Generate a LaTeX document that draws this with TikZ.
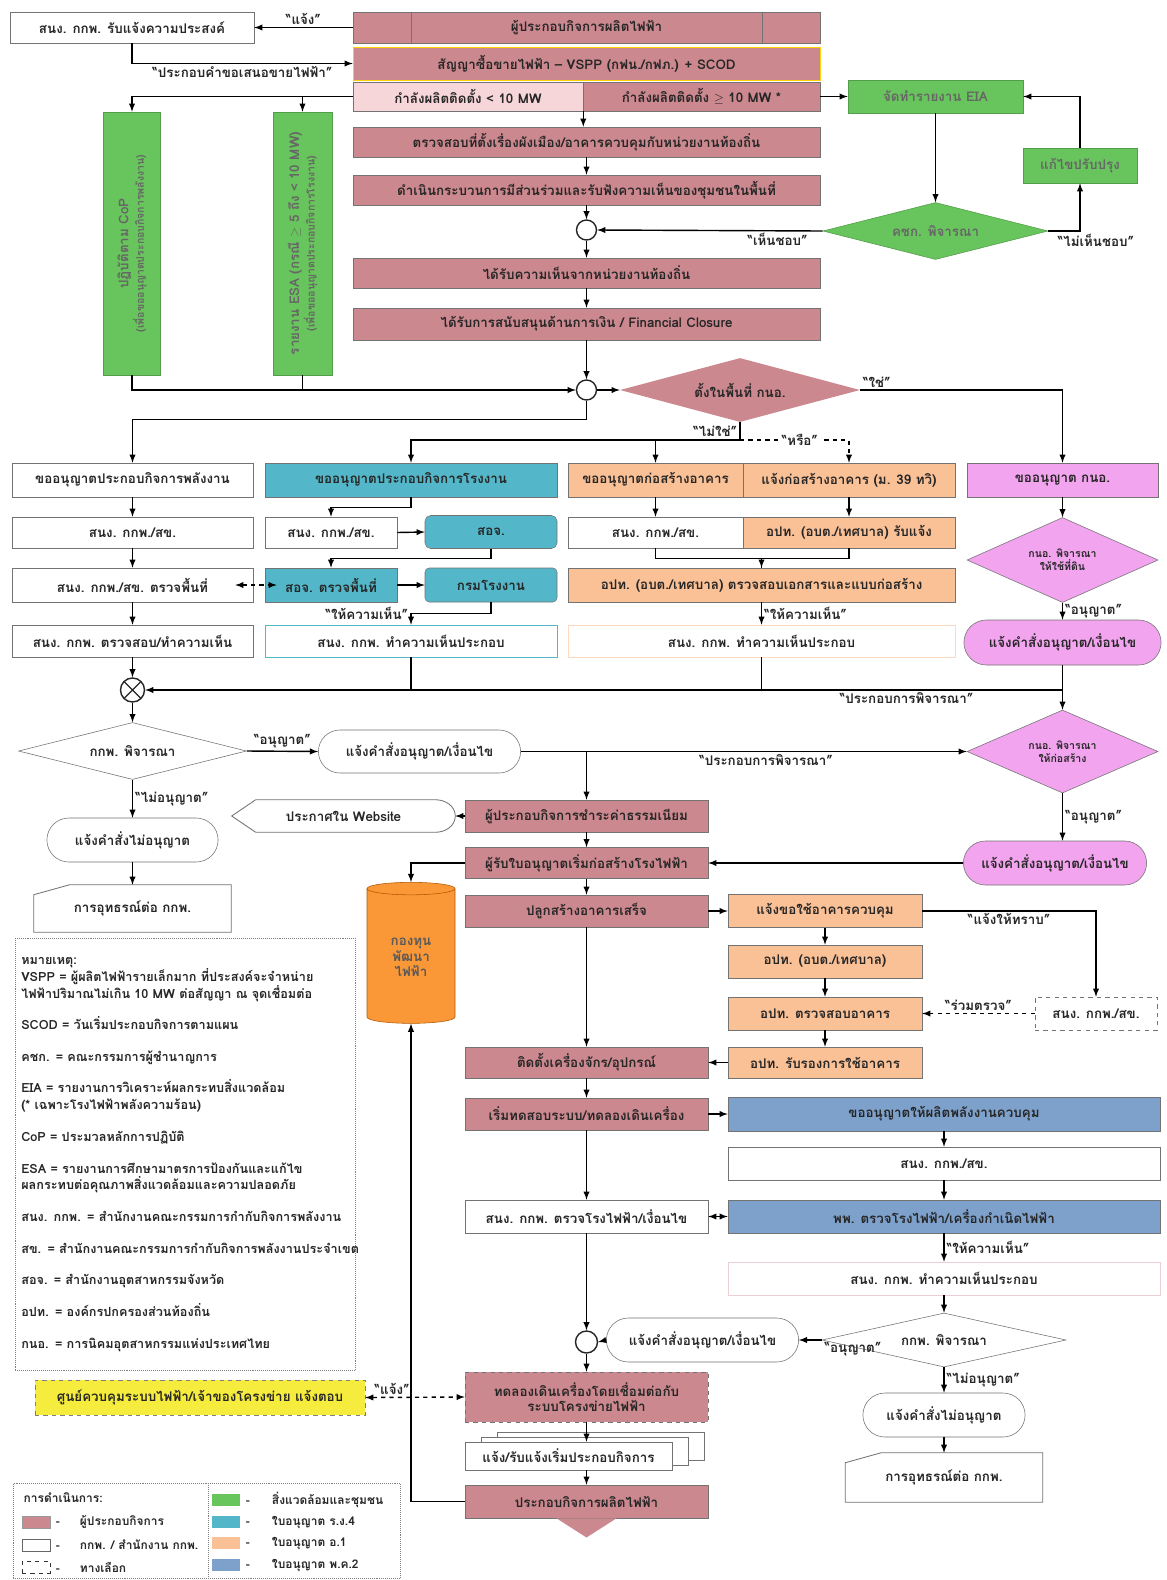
\documentclass[tikz,border=0pt]{standalone}
\usepackage{fontspec}
\setmainfont[Script=Thai]{Loma}
\usepackage{xcolor}
\usepackage{tikz}
\usetikzlibrary{positioning,shapes,shadows,arrows}
\definecolor{opfill}{RGB}{204,136,143}
\definecolor{oplight}{RGB}{247,214,218}
\definecolor{envfill}{RGB}{104,196,92}
\definecolor{factfill}{RGB}{84,183,201}
\definecolor{bldfill}{RGB}{250,192,150}
\definecolor{ieatfill}{RGB}{242,164,238}
\definecolor{pkfill}{RGB}{126,161,204}
\definecolor{fundfill}{RGB}{250,152,56}
\definecolor{dispfill}{RGB}{246,236,62}
\newcommand{\pxu}{0.025cm}
\newcommand{\boxfont}{\bfseries\fontsize{9.5}{11}\selectfont}
\newcommand{\smallfont}{\bfseries\fontsize{7.5}{9}\selectfont}
\newcommand{\notefont}{\bfseries\fontsize{9}{12}\selectfont}
\tikzstyle{boxbase}=[rectangle, draw=black!55, text=black!85, font=\boxfont, inner sep=1pt, align=center]
\tikzstyle{opbox}=[boxbase, fill=opfill]
\tikzstyle{ercbox}=[boxbase, fill=white]
\tikzstyle{envbox}=[boxbase, fill=envfill, draw=envfill!80!black, text=black!60]
\tikzstyle{factbox}=[boxbase, fill=factfill]
\tikzstyle{bldbox}=[boxbase, fill=bldfill]
\tikzstyle{ieatbox}=[boxbase, fill=ieatfill]
\tikzstyle{pkbox}=[boxbase, fill=pkfill]
\tikzstyle{decision}=[diamond, draw=black!55, text=black!85, font=\boxfont, inner sep=0pt, align=center]
\tikzstyle{pill}=[rounded rectangle, draw=black!55, fill=white, text=black!85, font=\boxfont, inner sep=1pt]
\tikzstyle{junction}=[circle, draw=black!85, line width=1pt, fill=white, inner sep=0pt, minimum size=0.5cm]
\tikzstyle{lbl}=[font=\boxfont, text=black!85, inner sep=1.5pt]
\tikzstyle{notebox}=[rectangle, draw=black!50, densely dotted, font=\notefont, text=black!85, inner sep=4pt]
\tikzstyle{swatch}=[rectangle, draw=black!40, minimum width=0.7cm, minimum height=0.3cm, inner sep=0pt]
\tikzstyle{legtext}=[font=\bfseries\fontsize{8.5}{10}\selectfont, text=black!85, inner sep=1pt]
\tikzstyle{myarrow}=[->, >=latex, line width=1pt]
\tikzstyle{line}=[-, line width=1pt]
\tikzset{sz/.style 2 args={minimum width=#1*\pxu, minimum height=#2*\pxu}}

\begin{document}
\begin{tikzpicture}[x=\pxu, y=-\pxu]
    \useasboundingbox[fill=white] (0,0) rectangle (1166,1580);

    % top: application and contract
    \node (notify) [ercbox, sz={244}{31}] at (132,27.5) {สนง. กกพ. รับแจ้งความประสงค์};
    \node (producer) [opbox, sz={467}{31}] at (586.5,27.5) {ผู้ประกอบกิจการผลิตไฟฟ้า};
    \node (contract) [opbox, draw=yellow!70!orange, sz={467}{33}] at (586.5,63.5)
        {สัญญาซื้อขายไฟฟ้า -- VSPP (กฟน./กฟภ.) + SCOD};
    \node (small) [opbox, fill=oplight, sz={230}{29}] at (468,96.5) {กำลังผลิตติดตั้ง < 10 MW};
    \node (large) [opbox, sz={237}{29}] at (701.5,96.5) {กำลังผลิตติดตั้ง $\geq$ 10 MW *};
    \node (eia) [envbox, sz={175}{33}] at (935.5,96.5) {จัดทำรายงาน EIA};
    \node (cop) [envbox, rotate=90, sz={263}{57}] at (132,243.5)
        {ปฏิบัติตาม CoP\\{\smallfont(เพื่อขออนุญาตประกอบกิจการพลังงาน)}};
    \node (esa) [envbox, rotate=90, sz={263}{59}] at (302.5,243.5)
        {รายงาน ESA (กรณี $\geq$ 5 ถึง < 10 MW)\\{\smallfont(เพื่อขออนุญาตประกอบกิจการโรงงาน)}};
    \node (zoning) [opbox, sz={467}{30}] at (586.5,142) {ตรวจสอบที่ตั้งเรื่องผังเมือง/อาคารควบคุมกับหน่วยงานท้องถิ่น};
    \node (hearing) [opbox, sz={467}{30}] at (586.5,190) {ดำเนินกระบวนการมีส่วนร่วมและรับฟังความเห็นของชุมชนในพื้นที่};
    \node (jnA) [junction] at (586.5,230) {};
    \node (eiadec) [decision, aspect=4, fill=envfill, draw=envfill!80!black, text=black!60, sz={225}{57}] at (935.5,231) {คชก. พิจารณา};
    \node (revise) [envbox, sz={114}{35}] at (1080,165.5) {แก้ไขปรับปรุง};
    \node (localok) [opbox, sz={467}{30}] at (586.5,273) {ได้รับความเห็นจากหน่วยงานท้องถิ่น};
    \node (finance) [opbox, sz={467}{32}] at (586.5,324) {ได้รับการสนับสนุนด้านการเงิน / Financial Closure};
    \node (jnB) [junction] at (586.5,390) {};
    \node (ieat) [decision, aspect=3.75, fill=opfill, draw=none, sz={240}{64}] at (740,390) {ตั้งในพื้นที่ กนอ.};
    \coordinate (nojn) at (740,440);

    % licences, four columns
    \node (energy) [ercbox, sz={241}{34}] at (132.5,480) {ขออนุญาตประกอบกิจการพลังงาน};
    \node (ercA) [ercbox, sz={241}{31}] at (132.5,532.5) {สนง. กกพ./สข.};
    \node (surveyA) [ercbox, sz={241}{34}] at (132.5,585) {สนง. กกพ./สข. ตรวจพื้นที่};
    \node (reviewA) [ercbox, sz={241}{32}] at (132.5,641) {สนง. กกพ. ตรวจสอบ/ทำความเห็น};

    \node (factory) [factbox, sz={292}{34}] at (411,480) {ขออนุญาตประกอบกิจการโรงงาน};
    \node (ercB) [ercbox, sz={132}{31}] at (331,532.5) {สนง. กกพ./สข.};
    \node (doiB) [factbox, rounded corners=4pt, sz={132}{33}] at (491,532) {สอจ.};
    \node (doiSurvey) [factbox, sz={132}{34}] at (331,585) {สอจ. ตรวจพื้นที่};
    \node (diw) [factbox, rounded corners=3pt, sz={132}{34}] at (491,585) {กรมโรงงาน};
    \node (reviewB) [ercbox, draw=factfill, sz={292}{32}] at (411,641) {สนง. กกพ. ทำความเห็นประกอบ};

    \node (build) [bldbox, sz={175}{34}] at (655.5,480) {ขออนุญาตก่อสร้างอาคาร};
    \node (notice) [bldbox, sz={212}{34}] at (849,480) {แจ้งก่อสร้างอาคาร (ม. 39 ทวิ)};
    \node (ercC) [ercbox, sz={175}{31}] at (655.5,532.5) {สนง. กกพ./สข.};
    \node (laoC) [bldbox, sz={212}{31}] at (849,532.5) {อปท. (อบต./เทศบาล) รับแจ้ง};
    \node (laoCheck) [bldbox, sz={387}{34}] at (761.5,585) {อปท. (อบต./เทศบาล) ตรวจสอบเอกสารและแบบก่อสร้าง};
    \node (reviewC) [ercbox, draw=bldfill!60, sz={387}{32}] at (761.5,641) {สนง. กกพ. ทำความเห็นประกอบ};

    \node (ieatreq) [ieatbox, sz={191}{34}] at (1062.5,480) {ขออนุญาต กนอ.};
    \node (ieatland) [decision, aspect=2.25, fill=ieatfill, font=\smallfont, sz={191}{85}] at (1062.5,560) {กนอ. พิจารณา\\ให้ใช้ที่ดิน};
    \node (ieatok) [pill, fill=ieatfill, sz={200}{45}] at (1062.5,642.5) {แจ้งคำสั่งอนุญาต/เงื่อนไข};
    \coordinate (mergeR) at (1062.5,690);

    % ERC decision
    \node (jnX) [junction, minimum size=0.6cm, path picture={
        \draw[line width=0.8pt] (path picture bounding box.north west) -- (path picture bounding box.south east)
            (path picture bounding box.south west) -- (path picture bounding box.north east);}] at (132.5,690) {};
    \node (ercdec) [decision, aspect=4, fill=white, sz={228}{57}] at (132.5,751) {กกพ. พิจารณา};
    \node (permitA) [pill, sz={205}{43}] at (419.5,751.5) {แจ้งคำสั่งอนุญาต/เงื่อนไข};
    \node (ieatbuild) [decision, aspect=2.3, fill=ieatfill, font=\smallfont, sz={191}{83}] at (1062.5,751.5) {กนอ. พิจารณา\\ให้ก่อสร้าง};
    \node (rejectA) [pill, sz={174}{44}] at (132.5,840) {แจ้งคำสั่งไม่อนุญาต};
    \node (appealA) [lbl, sz={197}{47}] at (132.5,908.5) {การอุทธรณ์ต่อ กกพ.};
    \node (website) [lbl, sz={223}{32}] at (343.5,816) {ประกาศใน Website};
    \node (ieatok2) [pill, fill=ieatfill, sz={186}{44}] at (1055,863) {แจ้งคำสั่งอนุญาต/เงื่อนไข};

    % construction
    \node (fee) [opbox, sz={243}{32}] at (586.5,816) {ผู้ประกอบกิจการชำระค่าธรรมเนียม};
    \node (start) [opbox, sz={243}{31}] at (586.5,863) {ผู้รับใบอนุญาตเริ่มก่อสร้างโรงไฟฟ้า};
    \node (fund) [cylinder, shape border rotate=90, aspect=0.25, draw=orange!70!black, fill=fundfill,
        text=black!65, font=\boxfont, align=center, sz={88}{141}] at (411,957.5) {กองทุน\\พัฒนา\\ไฟฟ้า};
    \node (built) [opbox, sz={243}{32}] at (586.5,911) {ปลูกสร้างอาคารเสร็จ};
    \node (useBld) [bldbox, sz={194}{33}] at (825,911) {แจ้งขอใช้อาคารควบคุม};
    \node (laoD) [bldbox, sz={194}{33}] at (825,961.5) {อปท. (อบต./เทศบาล)};
    \node (laoInsp) [bldbox, sz={194}{33}] at (825,1013.5) {อปท. ตรวจสอบอาคาร};
    \node (laoCert) [bldbox, sz={194}{31}] at (825,1062.5) {อปท. รับรองการใช้อาคาร};
    \node (ercOpt) [ercbox, dashed, sz={122}{33}] at (1096,1013.5) {สนง. กกพ./สข.};
    \node (install) [opbox, sz={243}{31}] at (586.5,1062.5) {ติดตั้งเครื่องจักร/อุปกรณ์};
    \node (test) [opbox, sz={243}{32}] at (586.5,1114) {เริ่มทดสอบระบบ/ทดลองเดินเครื่อง};
    \node (pk2) [pkbox, sz={432}{34}] at (944,1114) {ขออนุญาตให้ผลิตพลังงานควบคุม};
    \node (ercPk) [ercbox, sz={432}{33}] at (944,1163.5) {สนง. กกพ./สข.};
    \node (dede) [pkbox, sz={432}{33}] at (944,1216.5) {พพ. ตรวจโรงไฟฟ้า/เครื่องกำเนิดไฟฟ้า};
    \node (ercInsp) [ercbox, sz={243}{33}] at (586.5,1216.5) {สนง. กกพ. ตรวจโรงไฟฟ้า/เงื่อนไข};
    \node (ercOp) [ercbox, draw=opfill!40, sz={432}{33}] at (944,1278.5) {สนง. กกพ. ทำความเห็นประกอบ};
    \node (ercdecB) [decision, aspect=4.5, fill=white, sz={244}{54}] at (944,1340) {กกพ. พิจารณา};
    \node (permitB) [pill, sz={195}{44}] at (702.5,1340) {แจ้งคำสั่งอนุญาต/เงื่อนไข};
    \node (jnC) [junction, minimum size=0.55cm] at (586.5,1342) {};
    \node (grid) [opbox, dashed, sz={243}{50}] at (586.5,1397) {ทดลองเดินเครื่องโดยเชื่อมต่อกับ\\ระบบโครงข่ายไฟฟ้า};
    \node (dispatch) [boxbase, fill=dispfill, dashed, draw=black!50, sz={330}{35}] at (200,1397.5)
        {ศูนย์ควบคุมระบบไฟฟ้า/เจ้าของโครงข่าย แจ้งตอบ};
    \node (cod) [ercbox, sz={207}{28}, double copy shadow={shadow xshift=0.4cm, shadow yshift=0.12cm,
        fill=white, draw=black!55}] at (568.5,1456) {แจ้ง/รับแจ้งเริ่มประกอบกิจการ};
    \node (operate) [opbox, sz={243}{33}] at (586.5,1501.5) {ประกอบกิจการผลิตไฟฟ้า};
    \node (rejectB) [pill, sz={165}{44}] at (944,1415) {แจ้งคำสั่งไม่อนุญาต};
    \node (appealB) [lbl, sz={197}{49}] at (944,1477.5) {การอุทธรณ์ต่อ กกพ.};

    % odd shapes drawn round their nodes
    \draw[black!55, semithick] ([xshift=1.475cm]producer.north west) -- ([xshift=1.475cm]producer.south west);
    \draw[black!55, semithick] ([xshift=-1.45cm]producer.north east) -- ([xshift=-1.45cm]producer.south east);
    \draw[black!55, semithick] (appealA.south west) -- ([yshift=-0.25cm]appealA.north west)
        -- ([xshift=0.9cm]appealA.north west) -- (appealA.north east) -- (appealA.south east) -- cycle;
    \draw[black!55, semithick] (appealB.south west) -- ([yshift=-0.25cm]appealB.north west)
        -- ([xshift=0.9cm]appealB.north west) -- (appealB.north east) -- (appealB.south east) -- cycle;
    \draw[black!55, semithick] (website.west) -- ([xshift=0.6cm]website.north west)
        -- ([xshift=-0.5cm]website.north east) to[out=0,in=90] (website.east)
        to[out=-90,in=0] ([xshift=-0.5cm]website.south east) -- ([xshift=0.6cm]website.south west) -- cycle;
    \fill[opfill] ([xshift=-0.75cm]operate.south) -- ([xshift=0.75cm]operate.south)
        -- ([yshift=-0.48cm]operate.south) -- cycle;

    % connectors, top part
    \draw[myarrow] (producer.west) -- node[lbl, above]{“แจ้ง”} (notify.east);
    \draw[myarrow] (notify.south) |- node[lbl, below, pos=0.75]{“ประกอบคำขอเสนอขายไฟฟ้า”} (contract.west);
    \draw[myarrow] (small.west) -| (cop.east);
    \draw[myarrow] (small.west) -| (esa.east);
    \draw[myarrow] (large.east) -- (eia.west);
    \draw[myarrow] (small.south east) -- (small.south east |- zoning.north);
    \draw[myarrow] (zoning.south) -- (hearing.north);
    \draw[myarrow] (hearing.south) -- (jnA.north);
    \draw[myarrow] (eia.south) -- (eiadec.north);
    \draw[myarrow] (eiadec.west) -- node[lbl, below, pos=0.2]{“เห็นชอบ”} (jnA.east);
    \draw[myarrow] (eiadec.east) -| node[lbl, below, xshift=0.4cm, pos=0.5]{“ไม่เห็นชอบ”} (revise.south);
    \draw[myarrow] (revise.north) |- (eia.east);
    \draw[myarrow] (jnA.south) -- (localok.north);
    \draw[myarrow] (localok.south) -- (finance.north);
    \draw[myarrow] (finance.south) -- (jnB.north);
    \draw[myarrow] (cop.west) |- (jnB.west);
    \draw[line] (esa.west) -- (esa.west |- jnB.west);
    \draw[myarrow] (jnB.east) -- (ieat.west);
    \draw[myarrow] (jnB.south) -- ++(0,19) -| (energy.north);
    \draw[myarrow] (ieat.east) -| node[lbl, above right, pos=0]{“ใช่”} (ieatreq.north);
    \draw[line] (ieat.south) -- node[lbl, left]{“ไม่ใช่”} (nojn);
    \draw[myarrow] (nojn) -| (factory.north);
    \draw[myarrow] (nojn -| build.north) -- (build.north);
    \draw[myarrow, dashed] (nojn) -- node[lbl, fill=white, pos=0.55]{“หรือ”} (nojn -| notice.north) -- (notice.north);

    % connectors, licence columns
    \draw[myarrow] (energy.south) -- (ercA.north);
    \draw[myarrow] (ercA.south) -- (surveyA.north);
    \draw[myarrow] (surveyA.south) -- (reviewA.north);
    \draw[myarrow] (factory.south) -- ++(0,10) -| (ercB.north);
    \draw[myarrow] (ercB.east) -- (doiB.west);
    \draw[myarrow] (doiB.south) -- ++(0,10) -| (doiSurvey.north);
    \draw[myarrow] (doiSurvey.east) -- (diw.west);
    \draw[myarrow, <->, dashed, shorten <=-0.45cm, shorten >=-0.3cm] (surveyA.east) -- (doiSurvey.west);
    \draw[myarrow] (diw.south) -- ++(0,11) -| node[lbl, left, pos=0.5]{“ให้ความเห็น”} (reviewB.north);
    \draw[myarrow] (build.south) -- (ercC.north);
    \draw[myarrow] (notice.south) -- (laoC.north);
    \draw[myarrow] (ercC.south) -- ++(0,10) -| (laoCheck.north);
    \draw[line] (laoC.south) -- ++(0,10) -| (laoCheck.north);
    \draw[myarrow] (laoCheck.south) -- node[lbl, right]{“ให้ความเห็น”} (reviewC.north);
    \draw[myarrow] (ieatreq.south) -- (ieatland.north);
    \draw[myarrow] (ieatland.south) -- node[lbl, right]{“อนุญาต”} (ieatok.north);
    \draw[line] (ieatok.south) -- (mergeR);
    \draw[line] (reviewB.south) -- (reviewB.south |- mergeR);
    \draw[line] (reviewC.south) -- (reviewC.south |- mergeR);
    \draw[myarrow] (mergeR) -- node[lbl, below, pos=0.17]{“ประกอบการพิจารณา”} (jnX.east);
    \draw[myarrow] (mergeR) -- (ieatbuild.north);
    \draw[myarrow] (reviewA.south) -- (jnX.north);
    \draw[myarrow] (jnX.south) -- (ercdec.north);

    % connectors, decisions
    \draw[myarrow] (ercdec.east) -- node[lbl, above]{“อนุญาต”} (permitA.west);
    \draw[myarrow] (permitA.east) -- node[lbl, below, pos=0.55]{“ประกอบการพิจารณา”} (ieatbuild.west);
    \draw[myarrow] (permitA.east -| fee.north) -- (fee.north);
    \draw[myarrow] (ercdec.south) -- node[lbl, right]{“ไม่อนุญาต”} (rejectA.north);
    \draw[myarrow] (rejectA.south) -- (appealA.north);
    \draw[myarrow] (ieatbuild.south) -- node[lbl, right]{“อนุญาต”} (ieatbuild.south |- ieatok2.north);
    \draw[myarrow] (ieatok2.west) -- (start.east);
    \draw[myarrow] (fee.west) -- (website.east);
    \draw[myarrow] (fee.south) -- (start.north);
    \draw[myarrow] (start.west) -| (fund.north);

    % connectors, construction and operation
    \draw[myarrow] (start.south) -- (built.north);
    \draw[myarrow] (built.east) -- (useBld.west);
    \draw[myarrow] (built.south) -- (install.north);
    \draw[myarrow] (useBld.south) -- (laoD.north);
    \draw[myarrow] (laoD.south) -- (laoInsp.north);
    \draw[myarrow] (laoInsp.south) -- (laoCert.north);
    \draw[myarrow] (useBld.east) -| node[lbl, below, pos=0.25]{“แจ้งให้ทราบ”} (ercOpt.north);
    \draw[myarrow, dashed] (ercOpt.west) -- node[lbl, above]{“ร่วมตรวจ”} (laoInsp.east);
    \draw[myarrow] (laoCert.west) -- (install.east);
    \draw[myarrow] (install.south) -- (test.north);
    \draw[myarrow] (test.east) -- (pk2.west);
    \draw[myarrow] (pk2.south) -- (ercPk.north);
    \draw[myarrow] (ercPk.south) -- (dede.north);
    \draw[myarrow] (test.south) -- (ercInsp.north);
    \draw[myarrow, <->] (ercInsp.east) -- (dede.west);
    \draw[myarrow] (dede.south) -- node[lbl, right]{“ให้ความเห็น”} (ercOp.north);
    \draw[myarrow] (ercOp.south) -- (ercdecB.north);
    \draw[myarrow] (ercdecB.west) -- node[lbl, below right, pos=0]{“อนุญาต”} (permitB.east);
    \draw[myarrow] (permitB.west) -- (jnC.east);
    \draw[myarrow] (ercInsp.south) -- (jnC.north);
    \draw[myarrow] (jnC.south) -- (grid.north);
    \draw[myarrow, <->, dashed] (dispatch.east) -- node[lbl, above, pos=0.27]{“แจ้ง”} (grid.west);
    \draw[myarrow] (grid.south) -- (grid.south |- cod.north);
    \draw[myarrow] (cod.south -| operate.north) -- (operate.north);
    \draw[myarrow] (operate.west) -| (fund.south);
    \draw[myarrow] (ercdecB.south) -- node[lbl, right]{“ไม่อนุญาต”} (rejectB.north);
    \draw[myarrow] (rejectB.south) -- (appealB.north);

    % notes
    \node (notes) [notebox, anchor=north west, minimum width=8.5cm, minimum height=10.8cm,
        text width=8.2cm, align=left] at (15,938)
        {หมายเหตุ:\\
         VSPP = ผู้ผลิตไฟฟ้ารายเล็กมาก ที่ประสงค์จะจำหน่าย\\
         ไฟฟ้าปริมาณไม่เกิน 10 MW ต่อสัญญา ณ จุดเชื่อมต่อ\\[10.5pt]
         SCOD = วันเริ่มประกอบกิจการตามแผน\\[10.5pt]
         คชก. = คณะกรรมการผู้ชำนาญการ\\[10.5pt]
         EIA = รายงานการวิเคราะห์ผลกระทบสิ่งแวดล้อม\\
         (* เฉพาะโรงไฟฟ้าพลังความร้อน)\\[10.5pt]
         CoP = ประมวลหลักการปฏิบัติ\\[10.5pt]
         ESA = รายงานการศึกษามาตรการป้องกันและแก้ไข\\
         ผลกระทบต่อคุณภาพสิ่งแวดล้อมและความปลอดภัย\\[10.5pt]
         สนง. กกพ. = สำนักงานคณะกรรมการกำกับกิจการพลังงาน\\[10.5pt]
         สข. = สำนักงานคณะกรรมการกำกับกิจการพลังงานประจำเขต\\[10.5pt]
         สอจ. = สำนักงานอุตสาหกรรมจังหวัด\\[10.5pt]
         อปท. = องค์กรปกครองส่วนท้องถิ่น\\[10.5pt]
         กนอ. = การนิคมอุตสาหกรรมแห่งประเทศไทย};

    % legend
    \node (legend) [notebox, anchor=north west, minimum width=9.675cm, minimum height=2.37cm] at (13,1483) {};
    \draw[black!50, densely dotted] ([xshift=4.875cm]legend.north west) -- ([xshift=4.875cm]legend.south west);
    \node (legHead) [legtext, anchor=west] at (22,1498) {การดำเนินการ:};
    \node (swOp) [swatch, fill=opfill] at (36,1522) {};
    \node [legtext, right=0.1cm of swOp] {-\hspace{0.5cm}ผู้ประกอบกิจการ};
    \node (swErc) [swatch, fill=white, draw=black!60] at (36,1545) {};
    \node [legtext, right=0.1cm of swErc] {-\hspace{0.5cm}กกพ. / สำนักงาน กกพ.};
    \node (swOpt) [swatch, fill=white, draw=black!80, dashed] at (36,1567) {};
    \node [legtext, right=0.1cm of swOpt] {-\hspace{0.5cm}ทางเลือก};
    \node (swEnv) [swatch, fill=envfill, draw=none] at (226,1500) {};
    \node [legtext, right=0.1cm of swEnv] {-\hspace{0.55cm}สิ่งแวดล้อมและชุมชน};
    \node (swFact) [swatch, fill=factfill, draw=none] at (226,1522) {};
    \node [legtext, right=0.1cm of swFact] {-\hspace{0.55cm}ใบอนุญาต ร.ง.4};
    \node (swBld) [swatch, fill=bldfill, draw=none] at (226,1543) {};
    \node [legtext, right=0.1cm of swBld] {-\hspace{0.55cm}ใบอนุญาต อ.1};
    \node (swPk) [swatch, fill=pkfill, draw=none] at (226,1565) {};
    \node [legtext, right=0.1cm of swPk] {-\hspace{0.55cm}ใบอนุญาต พ.ค.2};
\end{tikzpicture}
\end{document}
